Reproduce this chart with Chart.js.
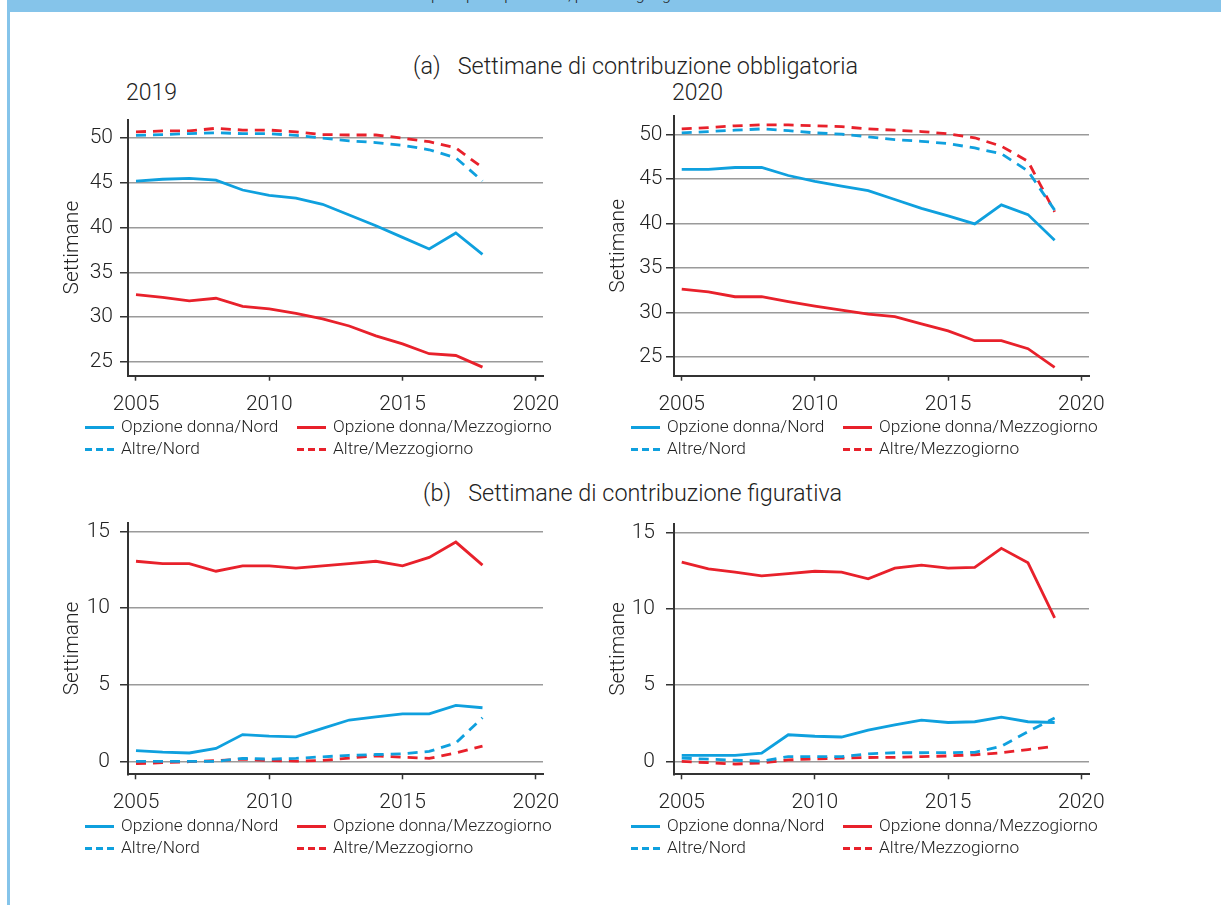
<!DOCTYPE html>
<html>
<head>
<meta charset="utf-8">
<script src="https://cdn.jsdelivr.net/npm/chart.js@4.4.1/dist/chart.umd.min.js"></script>
<style>
  body { margin:0; width:1221px; height:905px; position:relative; overflow:hidden; background:#fff;
         font-family: Roboto, "Liberation Sans", sans-serif; font-weight:300; color:#222; }
  .barra { position:absolute; left:7px; top:0; width:1214px; height:12px; background:#85c4ea; overflow:hidden; }
  .barra span { position:absolute; left:233px; top:-13px; font-size:16px; line-height:16px; white-space:nowrap; color:#222; }
  .bordo { position:absolute; left:7px; top:0; width:3px; height:905px; background:#85c4ea; }
  .txt { position:absolute; white-space:nowrap; line-height:1; }
  canvas { position:absolute; }
  .leg { position:absolute; font-size:17.3px; line-height:1; white-space:nowrap; }
  .leg i { position:absolute; top:0; width:29px; height:3px; }
</style>
</head>
<body>
<div class="bordo"></div>
<div class="barra"><span>Settimane di contribuzione per tipo di pensione, per area geografica</span></div>

<div class="txt" style="left:413px;top:55px;font-size:23.4px">(a)&nbsp;&nbsp;&nbsp;Settimane di contribuzione obbligatoria</div>
<div class="txt" style="left:126px;top:81px;font-size:23px">2019</div>
<div class="txt" style="left:672px;top:81px;font-size:23px">2020</div>
<div class="txt" style="left:423px;top:482px;font-size:23.4px">(b)&nbsp;&nbsp;&nbsp;Settimane di contribuzione figurativa</div>

<canvas id="g1" width="520" height="330" style="left:60px;top:100px"></canvas>
<canvas id="g2" width="520" height="330" style="left:606px;top:100px"></canvas>
<canvas id="g3" width="520" height="330" style="left:60px;top:500px"></canvas>
<canvas id="g4" width="520" height="330" style="left:606px;top:500px"></canvas>

<script>
// anni
const anni2019 = [2005,2006,2007,2008,2009,2010,2011,2012,2013,2014,2015,2016,2017,2018];
const anni2020 = [2005,2006,2007,2008,2009,2010,2011,2012,2013,2014,2015,2016,2017,2018,2019];

const nomiSerie = ['Opzione donna/Nord', 'Opzione donna/Mezzogiorno', 'Altre/Nord', 'Altre/Mezzogiorno'];
const tickAnni = [2005, 2010, 2015, 2020];
const tickObbl = [25, 30, 35, 40, 45, 50];
const tickFig = [0, 5, 10, 15];

// (a) contribuzione obbligatoria - 2019
const obblOpzNord19  = [45.2,45.4,45.5,45.3,44.2,43.6,43.3,42.6,41.4,40.2,38.9,37.6,39.4,37.0];
const obblOpzSud19   = [32.5,32.2,31.8,32.1,31.2,30.9,30.4,29.8,29.0,27.9,27.0,25.9,25.7,24.4];
const obblAltNord19  = [50.3,50.4,50.5,50.6,50.5,50.5,50.3,50.0,49.7,49.5,49.2,48.7,47.8,45.2];
const obblAltSud19   = [50.7,50.8,50.8,51.1,50.9,50.9,50.7,50.4,50.35,50.35,50.0,49.6,48.9,46.7];

// (a) contribuzione obbligatoria - 2020
const obblOpzNord20  = [46.1,46.1,46.3,46.3,45.4,44.75,44.2,43.7,42.7,41.7,40.85,39.95,42.1,41.0,38.1];
const obblOpzSud20   = [32.6,32.3,31.75,31.75,31.2,30.7,30.25,29.8,29.5,28.7,27.9,26.8,26.8,25.9,23.8];
const obblAltNord20  = [50.2,50.35,50.5,50.65,50.45,50.2,50.05,49.75,49.45,49.25,49.0,48.5,47.85,45.9,41.5];
const obblAltSud20   = [50.65,50.8,51.0,51.1,51.1,51.0,50.9,50.65,50.5,50.35,50.1,49.65,48.7,47.0,41.3];

// (b) contribuzione figurativa - 2019
const figOpzNord19   = [0.7,0.6,0.55,0.85,1.75,1.65,1.6,2.15,2.7,2.9,3.1,3.1,3.65,3.5];
const figOpzSud19    = [13.05,12.9,12.9,12.4,12.75,12.75,12.6,12.75,12.9,13.05,12.75,13.3,14.3,12.8];
const figAltNord19   = [0.0,0.0,0.0,0.0,0.2,0.15,0.2,0.3,0.4,0.45,0.5,0.65,1.2,2.85];
const figAltSud19    = [-0.15,-0.08,-0.02,0.05,0.15,0.06,0.02,0.06,0.22,0.36,0.28,0.2,0.55,1.0];

// (b) contribuzione figurativa - 2020
const figOpzNord20   = [0.4,0.4,0.4,0.55,1.75,1.65,1.6,2.05,2.4,2.7,2.55,2.6,2.9,2.6,2.55];
const figOpzSud20    = [13.05,12.6,12.4,12.15,12.3,12.45,12.4,11.95,12.65,12.85,12.65,12.7,13.95,13.0,9.4];
const figAltNord20   = [0.22,0.15,0.08,0.02,0.32,0.32,0.32,0.5,0.57,0.57,0.58,0.6,1.0,1.95,2.85];
const figAltSud20    = [0.0,-0.08,-0.17,-0.1,0.1,0.17,0.22,0.26,0.27,0.32,0.36,0.44,0.57,0.78,1.0];

const blu = '#0fa0de';
const rosso = '#e8212b';
const stili = [
  { colore: blu,   tratteggio: [] },
  { colore: rosso, tratteggio: [] },
  { colore: blu,   tratteggio: [10, 7] },
  { colore: rosso, tratteggio: [10, 7] }
];

const fontBase = { family: 'Roboto, "Liberation Sans", sans-serif', weight: 300 };
const coloreTesto = '#222';

function creaDatasets(anni, serie) {
  return serie.map((valori, i) => ({
    label: nomiSerie[i],
    data: valori.map((v, k) => ({ x: anni[k], y: v })),
    borderColor: stili[i].colore,
    backgroundColor: stili[i].colore,
    borderDash: stili[i].tratteggio,
    borderWidth: 2.8,
    pointRadius: 0,
    tension: 0,
    fill: false
  }));
}

function creaGrafico(id, anni, serie, o) {
  const canvas = document.getElementById(id);
  return new Chart(canvas, {
    type: 'line',
    data: { datasets: creaDatasets(anni, serie) },
    options: {
      responsive: false,
      animation: false,
      devicePixelRatio: 1,
      layout: { padding: { top: o.pt, right: 37, bottom: o.pb, left: 0 } },
      plugins: { legend: { display: false }, tooltip: { enabled: false } },
      scales: {
        x: {
          type: 'linear',
          min: o.xMin, max: o.xMax,
          afterBuildTicks: s => { s.ticks = tickAnni.map(v => ({ value: v })); },
          afterFit: s => { s.height = 45; },
          grid: { drawOnChartArea: false, tickLength: 5, tickColor: '#333', tickWidth: 1.5 },
          border: { color: '#333', width: 2 },
          ticks: { font: { ...fontBase, size: 21 }, color: coloreTesto, padding: 11,
                   maxRotation: 0, autoSkip: false, callback: v => String(v) }
        },
        y: {
          min: o.yMin, max: o.yMax,
          afterBuildTicks: s => { s.ticks = o.yTicks.map(v => ({ value: v })); },
          afterFit: s => { s.width = 68; },
          grid: { color: '#9a9a9a', lineWidth: 1.5, tickLength: 8, tickColor: '#333', tickWidth: 1.5 },
          border: { color: '#333', width: 2 },
          ticks: { font: { ...fontBase, size: 21 }, color: coloreTesto, padding: o.yPad, callback: v => String(v) },
          title: { display: true, text: 'Settimane', font: { ...fontBase, size: 21 }, color: coloreTesto, padding: 0 }
        }
      }
    }
  });
}

function creaLegenda(x1, x2, y) {
  nomiSerie.forEach((nome, i) => {
    const d = document.createElement('div');
    d.className = 'leg';
    d.style.left = (i % 2 === 0 ? x1 : x2) + 'px';
    d.style.top = (y + Math.floor(i / 2) * 22 - 9) + 'px';
    const linea = document.createElement('i');
    linea.style.left = '0px';
    linea.style.top = '8px';
    if (stili[i].tratteggio.length) {
      linea.style.background = 'repeating-linear-gradient(to right,' + stili[i].colore + ' 0 7px, transparent 7px 11px)';
    } else {
      linea.style.background = stili[i].colore;
    }
    const t = document.createElement('span');
    t.textContent = nome;
    t.style.marginLeft = '36px';
    d.appendChild(linea);
    d.appendChild(t);
    document.body.appendChild(d);
  });
}

creaGrafico('g1', anni2019, [obblOpzNord19, obblOpzSud19, obblAltNord19, obblAltSud19],
  { pt: 15.7, pb: 9.3, xMin: 2004.7, xMax: 2020.27, yMin: 23.44, yMax: 52.07, yTicks: tickObbl, yPad: 7 });
creaGrafico('g2', anni2020, [obblOpzNord20, obblOpzSud20, obblAltNord20, obblAltSud20],
  { pt: 15.7, pb: 9.3, xMin: 2004.71, xMax: 2020.29, yMin: 22.86, yMax: 52.09, yTicks: tickObbl, yPad: 3.5 });
creaGrafico('g3', anni2019, [figOpzNord19, figOpzSud19, figAltNord19, figAltSud19],
  { pt: 14.3, pb: 10.7, xMin: 2004.7, xMax: 2020.27, yMin: -0.84, yMax: 15.57, yTicks: tickFig, yPad: 10 });
creaGrafico('g4', anni2020, [figOpzNord20, figOpzSud20, figAltNord20, figAltSud20],
  { pt: 14.3, pb: 10.7, xMin: 2004.71, xMax: 2020.29, yMin: -0.84, yMax: 15.57, yTicks: tickFig, yPad: 11 });

creaLegenda(85, 297, 427);
creaLegenda(631, 843, 427);
creaLegenda(85, 297, 826);
creaLegenda(631, 843, 826);
</script>
</body>
</html>
